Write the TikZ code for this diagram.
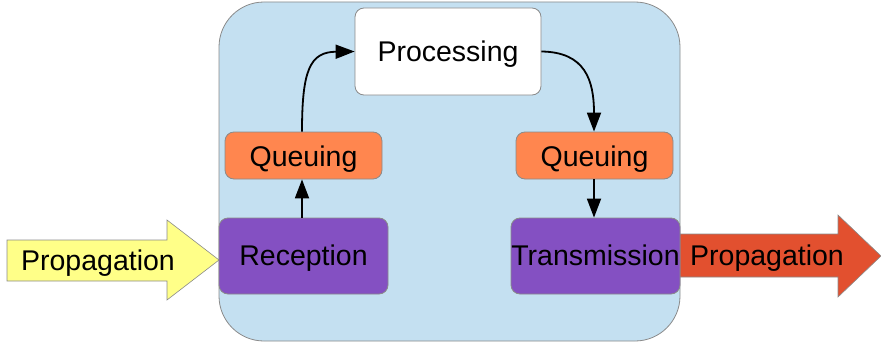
\documentclass[tikz,border=0pt]{standalone}
\usepackage{fontspec}
\setmainfont{Liberation Sans}
\usetikzlibrary{arrows.meta}
\definecolor{panelblue}{HTML}{C4E0F1}
\definecolor{queueorange}{HTML}{FF864F}
\definecolor{stagepurple}{HTML}{8450C2}
\definecolor{inyellow}{HTML}{FFFF88}
\definecolor{outred}{HTML}{E2502F}
\definecolor{edgegray}{HTML}{8A8A8A}
\begin{document}
\begin{tikzpicture}[x=1pt,y=-1pt,
  label/.style={font=\fontsize{28.5}{32}\selectfont, text=black, anchor=base, inner sep=0pt},
  boxstyle/.style={draw=edgegray, line width=0.8pt, rounded corners=9pt},
  flow/.style={-{Triangle[length=19pt,width=14pt]}, line width=1.8pt, black},
  bigarrow/.style={draw=edgegray, line width=0.6pt}
]
\useasboundingbox (0,0) rectangle (881,345);

% outer device panel
\path[fill=panelblue, draw=edgegray, line width=0.8pt, rounded corners=45pt]
  (219,2) rectangle (680,341);

% incoming propagation arrow
\path[bigarrow, fill=inyellow]
  (7,240) -- (167,240) -- (167,220) -- (219,260) -- (167,300) -- (167,281) -- (7,281) -- cycle;
\node[label] (pin) at (98,270) {Propagation};

% outgoing propagation arrow
\path[bigarrow, fill=outred]
  (680,234) -- (838,234) -- (838,215) -- (881,256) -- (838,297) -- (838,277) -- (680,277) -- cycle;
\node[label] (pout) at (767,265) {Propagation};

% processing stages
\node[boxstyle, fill=white, minimum width=186pt, minimum height=87pt] (proc) at (448,51.5) {};
\node[label] at (448,62) {Processing};
\node[boxstyle, fill=queueorange, minimum width=157pt, minimum height=47pt] (qin) at (303.5,155.5) {};
\node[label] at (303.5,166) {Queuing};
\node[boxstyle, fill=queueorange, minimum width=157pt, minimum height=47pt] (qout) at (594.5,155.5) {};
\node[label] at (594.5,166) {Queuing};
\node[boxstyle, fill=stagepurple, minimum width=169pt, minimum height=76pt] (rx) at (303.5,256) {};
\node[label] at (303.5,265) {Reception};
\node[boxstyle, fill=stagepurple, minimum width=169pt, minimum height=76pt] (tx) at (595.5,256) {};
\node[label] at (595.5,265) {Transmission};

% data flow between stages
\draw[flow] (rx.north -| 302,0) -- (qin.south -| 302,0);
\draw[flow] (qin.north -| 302,0) .. controls (302,70) and (310,52) .. (proc.west);
\draw[flow] (proc.east) .. controls (585,52) and (594,80) .. (qout.north -| 594,0);
\draw[flow] (qout.south -| 594,0) -- (tx.north -| 594,0);
\end{tikzpicture}
\end{document}
